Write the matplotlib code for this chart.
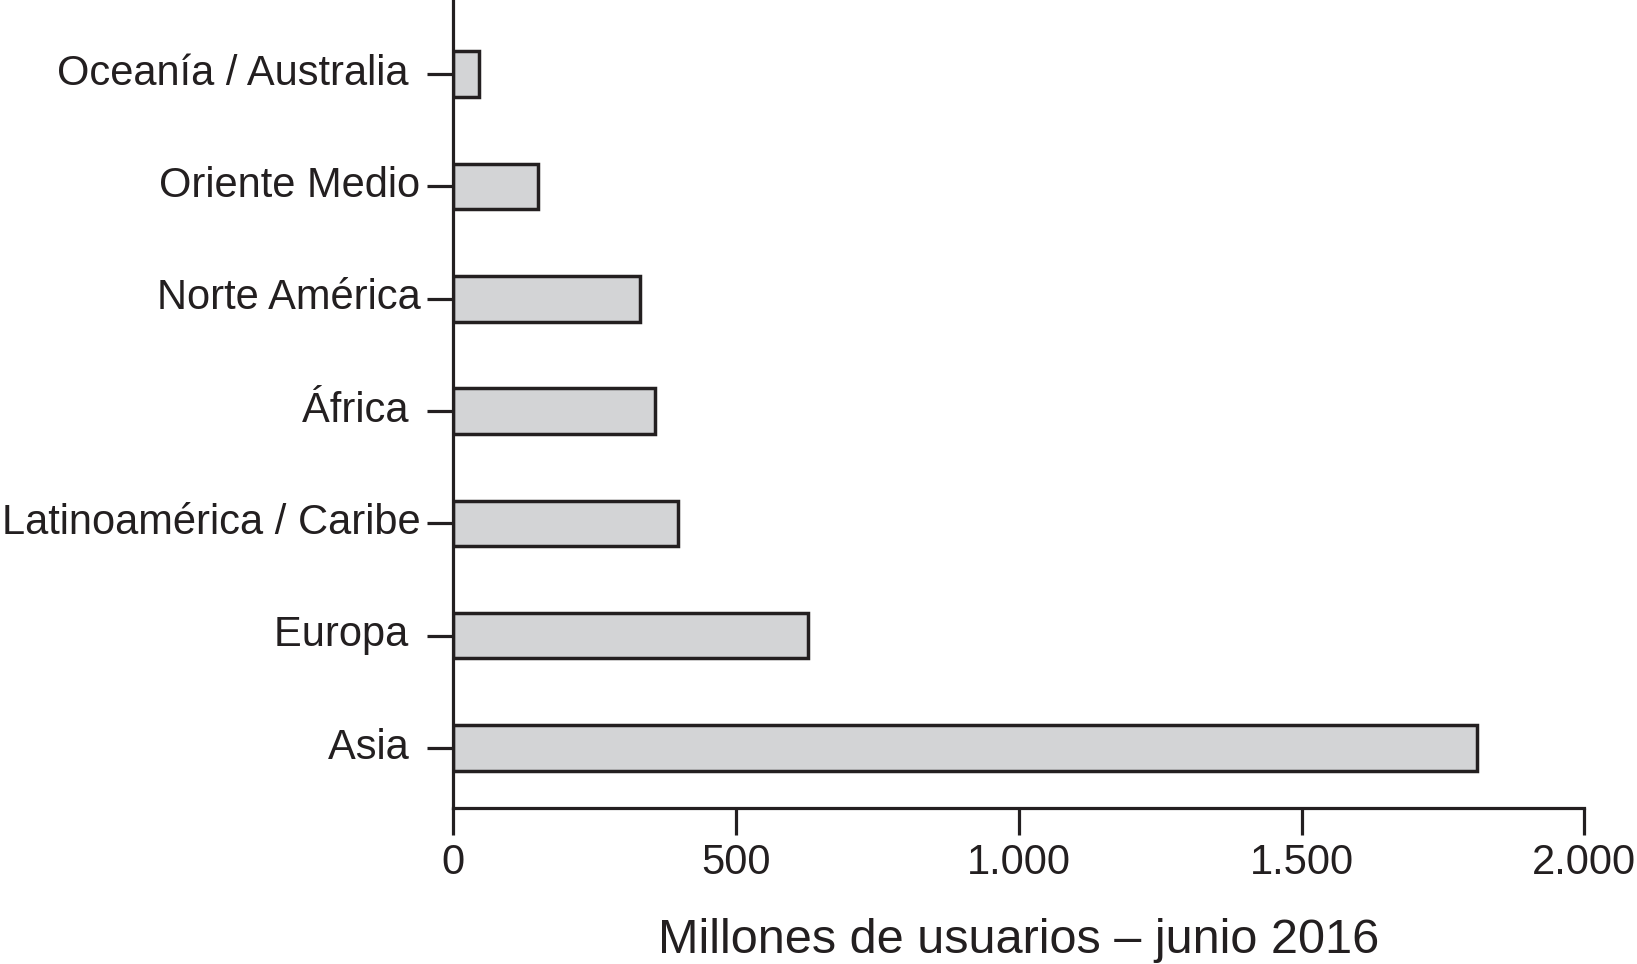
import matplotlib
matplotlib.use("Agg")
import matplotlib.pyplot as plt
from matplotlib.transforms import ScaledTranslation

plt.rcParams['font.family'] = ['Liberation Sans', 'DejaVu Sans']

regions = ["Asia ", "Europa ", "Latinoamérica / Caribe", "África ",
           "Norte América", "Oriente Medio", "Oceanía / Australia "]
users = [1810, 627, 397, 357, 331, 149, 45]
xticks = [0, 500, 1000, 1500, 2000]
xtick_labels = ["0", "500", "1.000", "1.500", "2.000"]
xlabel = "Millones de usuarios – junio 2016"

ink = "#231f20"
fill = "#d3d4d6"

fig = plt.figure(figsize=(16.37, 9.64), dpi=100)
ax = fig.add_axes([0.2769, 0.1618, 0.6909, 0.8382])

pos = list(range(len(regions)))
ax.barh(pos, users, height=0.405, color=fill, edgecolor=ink, linewidth=2.5, zorder=2)

ax.set_xlim(0, 2000)
ax.set_ylim(-0.534, 6.66)
ax.set_yticks(pos)
ax.set_yticklabels(regions)
ax.set_xticks(xticks)
ax.set_xticklabels(xtick_labels)

for s in ["top", "right"]:
    ax.spines[s].set_visible(False)
for s in ["left", "bottom"]:
    ax.spines[s].set_linewidth(2.3)
    ax.spines[s].set_color(ink)
    ax.spines[s].set_zorder(3)

ax.tick_params(axis="y", length=18.7, width=2.3, color=ink, labelsize=30,
               labelcolor=ink, pad=5)
ax.tick_params(axis="x", length=19.5, width=2.3, color=ink, labelsize=30,
               labelcolor=ink, pad=6)
ax.set_xlabel(xlabel, fontsize=35, color=ink, labelpad=25)

shift = ScaledTranslation(0, 3.5 / 72, fig.dpi_scale_trans)
for lab in ax.get_yticklabels():
    lab.set_transform(lab.get_transform() + shift)

fig.savefig("out.png", dpi=100)
